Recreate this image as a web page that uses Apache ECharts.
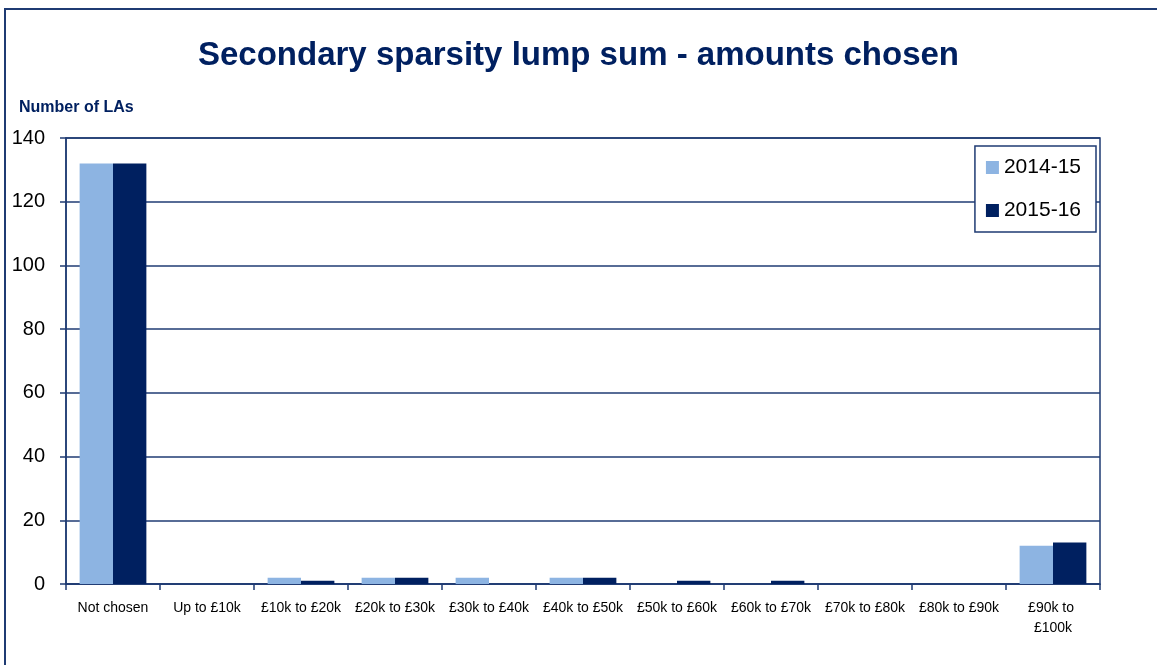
<!DOCTYPE html>
<html>
<head>
<meta charset="utf-8">
<script src="https://cdn.jsdelivr.net/npm/echarts@6/dist/echarts.min.js"></script>
<style>
  html, body { margin: 0; padding: 0; background: #fff; }
  #chart { width: 1157px; height: 665px; }
</style>
</head>
<body>
<div id="chart"></div>
<script>
const categories = ['Not chosen', 'Up to £10k', '£10k to £20k', '£20k to £30k', '£30k to £40k',
  '£40k to £50k', '£50k to £60k', '£60k to £70k', '£70k to £80k', '£80k to £90k', '£90k to £100k']
const values2014 = [132, 0, 2, 2, 2, 2, 0, 0, 0, 0, 12]
const values2015 = [132, 0, 1, 2, 0, 2, 1, 1, 0, 0, 13]
const yTicks = { min: 0, max: 140, interval: 20 }

const navy = '#002060'
const lineColor = '#1F3B73'
const font = '"Liberation Sans", "DejaVu Sans", sans-serif'

const chart = echarts.init(document.getElementById('chart'))
chart.setOption({
  animation: false,
  textStyle: { fontFamily: font },
  graphic: [{
    type: 'rect',
    shape: { x: 5, y: 9, width: 1200, height: 700 },
    style: { fill: 'none', stroke: lineColor, lineWidth: 2 },
    silent: true
  }],
  title: [{
    text: 'Secondary sparsity lump sum - amounts chosen',
    left: 'center',
    top: 34,
    textStyle: { color: navy, fontSize: 33, fontWeight: 'bold', fontFamily: font }
  }, {
    text: 'Number of LAs',
    left: 14,
    top: 95,
    textStyle: { color: navy, fontSize: 16, fontWeight: 'bold', fontFamily: font }
  }],
  legend: {
    orient: 'vertical',
    right: 61,
    top: 146,
    padding: [11, 15, 11, 11],
    itemGap: 22,
    icon: 'rect',
    itemWidth: 13,
    itemHeight: 13,
    borderColor: lineColor,
    borderWidth: 1.5,
    backgroundColor: '#fff',
    textStyle: { fontSize: 21, color: '#000', fontFamily: font },
    data: ['2014-15', '2015-16']
  },
  grid: {
    left: 66, right: 57, top: 138, bottom: 81,
    show: true, borderColor: lineColor, borderWidth: 1.5
  },
  xAxis: {
    type: 'category',
    data: categories,
    axisLine: { lineStyle: { color: lineColor, width: 1.5 } },
    axisTick: { show: true, length: 6, lineStyle: { color: lineColor, width: 1.5 } },
    axisLabel: {
      color: '#000', fontSize: 14, margin: 14, interval: 0,
      width: 96, overflow: 'break', lineHeight: 20, fontFamily: font
    }
  },
  yAxis: {
    type: 'value',
    min: yTicks.min,
    max: yTicks.max,
    interval: yTicks.interval,
    axisLine: { show: true, lineStyle: { color: lineColor, width: 1.5 } },
    axisTick: { show: true, length: 6, lineStyle: { color: lineColor, width: 1.5 } },
    axisLabel: { color: '#000', fontSize: 20, margin: 21, fontFamily: font },
    splitLine: { lineStyle: { color: lineColor, width: 1.5 } }
  },
  series: [{
    name: '2014-15',
    type: 'bar',
    data: values2014,
    barGap: '0%',
    barCategoryGap: '29%',
    itemStyle: { color: '#8DB4E2' }
  }, {
    name: '2015-16',
    type: 'bar',
    data: values2015,
    barGap: '0%',
    barCategoryGap: '29%',
    itemStyle: { color: navy }
  }]
})
</script>
</body>
</html>
